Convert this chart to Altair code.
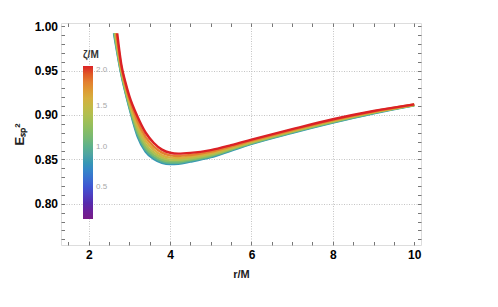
import altair as alt
import pandas as pd

# ---- data ----
zeta_values = [0.8, 1.0, 1.2, 1.4, 1.6, 1.8, 2.0]
r_start = [2.62, 2.63, 2.64, 2.65, 2.67, 2.68, 2.70]
E_start = 0.992
r_grid = [2.8, 2.9, 3.0, 3.2, 3.4, 3.6, 3.8, 4.0, 4.2, 4.5, 5.0, 5.5, 6.0, 7.0, 8.0, 9.0, 10.0]

E_z08 = [0.946, 0.926, 0.908, 0.876, 0.8585, 0.8505, 0.8462, 0.8447, 0.8450, 0.8475, 0.8525, 0.8600, 0.8675, 0.8800, 0.8915, 0.9020, 0.9110]
E_z10 = [0.9472, 0.9272, 0.9094, 0.8784, 0.8609, 0.8525, 0.8478, 0.8461, 0.8463, 0.8486, 0.8534, 0.8607, 0.8680, 0.8804, 0.8919, 0.9023, 0.9111]
E_z12 = [0.9486, 0.9286, 0.9111, 0.8813, 0.8637, 0.8548, 0.8498, 0.8478, 0.8478, 0.8499, 0.8544, 0.8614, 0.8686, 0.8810, 0.8924, 0.9026, 0.9112]
E_z14 = [0.9503, 0.9303, 0.9131, 0.8846, 0.8669, 0.8575, 0.8520, 0.8497, 0.8495, 0.8513, 0.8556, 0.8623, 0.8693, 0.8816, 0.8929, 0.9030, 0.9114]
E_z16 = [0.9523, 0.9323, 0.9154, 0.8885, 0.8708, 0.8608, 0.8546, 0.8520, 0.8516, 0.8531, 0.8571, 0.8634, 0.8702, 0.8823, 0.8936, 0.9034, 0.9116]
E_z18 = [0.9545, 0.9345, 0.9180, 0.8929, 0.8751, 0.8644, 0.8576, 0.8546, 0.8539, 0.8550, 0.8587, 0.8646, 0.8711, 0.8831, 0.8943, 0.9039, 0.9118]
E_z20 = [0.957, 0.937, 0.921, 0.898, 0.880, 0.8685, 0.861, 0.8575, 0.8565, 0.8573, 0.8605, 0.866, 0.8722, 0.884, 0.8952, 0.9045, 0.912]
E_curves = [E_z08, E_z10, E_z12, E_z14, E_z16, E_z18, E_z20]

x_ticks = [1.5, 2.0, 2.5, 3.0, 3.5, 4.0, 4.5, 5.0, 5.5, 6.0, 6.5, 7.0, 7.5, 8.0, 8.5, 9.0, 9.5, 10.0]
x_major_labels = ["2.0", "4.0", "6.0", "8.0", "10.0"]
x_grid = [2, 4, 6, 8]
y_ticks = [0.76, 0.77, 0.78, 0.79, 0.80, 0.81, 0.82, 0.83, 0.84, 0.85, 0.86, 0.87, 0.88,
           0.89, 0.90, 0.91, 0.92, 0.93, 0.94, 0.95, 0.96, 0.97, 0.98, 0.99, 1.00]
y_major_labels = ["0.80", "0.85", "0.90", "0.95", "1.00"]
y_grid = [0.80, 0.85, 0.90, 0.95]
legend_values = [0.5, 1.0, 1.5, 2.0]

rainbow = ["#781c87", "#5729ab", "#424fd1", "#457dcc", "#549ea6", "#6eb57d",
           "#91bf5e", "#b8bf4d", "#d9ad3d", "#e37d30", "#db2126"]

rows = []
for z, rs, Es in zip(zeta_values, r_start, E_curves):
    rows.append({"zeta": z, "r": rs, "E": E_start})
    for r, e in zip(r_grid, Es):
        rows.append({"zeta": z, "r": r, "E": e})
df = pd.DataFrame(rows)

xscale = alt.Scale(domain=[1.318, 10.167], nice=False, zero=False)
yscale = alt.Scale(domain=[0.7536, 1.0036], nice=False, zero=False)

FONT = "Liberation Sans"
TICK = 3.5
TICKCOL = "#777777"

x_lab_expr = "indexof(" + str(x_major_labels) + ", datum.label) >= 0 ? format(datum.value, 'd') : ''"
y_lab_expr = "indexof(" + str(y_major_labels) + ", datum.label) >= 0 ? datum.label : ''"

lines = alt.Chart(df).mark_line(strokeWidth=2.4, interpolate="monotone", clip=True).encode(
    x=alt.X("r:Q", scale=xscale, axis=alt.Axis(
        orient="bottom", values=x_ticks, format=".1f", labelExpr=x_lab_expr,
        offset=-TICK, tickSize=TICK, tickColor=TICKCOL, domain=False, grid=False,
        labelFont=FONT, labelFontSize=12, labelFontWeight="bold", labelColor="black",
        labelPadding=4, labelFlush=False, labelOverlap=False,
        title="r/M", titleFont=FONT, titleFontSize=11, titleFontWeight="bold",
        titleColor="#222222", titlePadding=8, zindex=1)),
    y=alt.Y("E:Q", scale=yscale, axis=alt.Axis(
        orient="left", values=y_ticks, format=".2f", labelExpr=y_lab_expr,
        offset=-TICK, tickSize=TICK, tickColor=TICKCOL, domain=False, grid=False,
        labelFont=FONT, labelFontSize=12, labelFontWeight="bold", labelColor="black",
        labelPadding=3.5, labelFlush=False, labelOverlap=False,
        title="Eₛₚ²", titleFont=FONT, titleFontSize=13, titleFontWeight="bold",
        titleColor="#222222", titlePadding=8, zindex=1)),
    color=alt.Color("zeta:Q", scale=alt.Scale(domain=[0.1, 2.0], range=rainbow),
                    legend=alt.Legend(
                        title="ζ/M", orient="none", legendX=22, legendY=27,
                        direction="vertical", gradientLength=153, gradientThickness=10,
                        values=legend_values, format=".1f",
                        labelColor="#a8a8a8", labelFont=FONT, labelFontSize=8,
                        labelOffset=3, gradientStrokeWidth=0,
                        titleFont=FONT, titleFontSize=10, titleFontWeight="bold",
                        titleColor="#333333", titlePadding=6)),
)

top_right = alt.Chart(df).mark_line(opacity=0).encode(
    x=alt.X("r:Q", scale=xscale, axis=alt.Axis(
        orient="top", values=x_ticks, offset=-TICK, tickSize=TICK, tickColor=TICKCOL,
        labels=False, domain=False, grid=False, title=None, zindex=1)),
    y=alt.Y("E:Q", scale=yscale, axis=alt.Axis(
        orient="right", values=y_ticks, offset=-TICK, tickSize=TICK, tickColor=TICKCOL,
        labels=False, domain=False, grid=False, title=None, zindex=1)),
)

grid = alt.Chart(df).mark_line(opacity=0).encode(
    x=alt.X("r:Q", scale=xscale, axis=alt.Axis(
        orient="bottom", values=x_grid, grid=True, gridDash=[1, 1.5], gridColor="#c4c4c4",
        gridWidth=1, ticks=False, labels=False, domain=False, title=None, zindex=0)),
    y=alt.Y("E:Q", scale=yscale, axis=alt.Axis(
        orient="left", values=y_grid, grid=True, gridDash=[1, 1.5], gridColor="#c4c4c4",
        gridWidth=1, ticks=False, labels=False, domain=False, title=None, zindex=0)),
)

chart = alt.layer(grid, lines, top_right).resolve_axis(
    x="independent", y="independent"
).properties(
    width=360, height=222,
    autosize=alt.AutoSizeParams(type="none"),
    padding={"left": 53, "top": 15, "right": 69, "bottom": 54},
).configure_view(stroke="#808080", strokeWidth=1).configure(background="white")

chart.save("out.html", embed_options={"renderer": "svg", "actions": False})
